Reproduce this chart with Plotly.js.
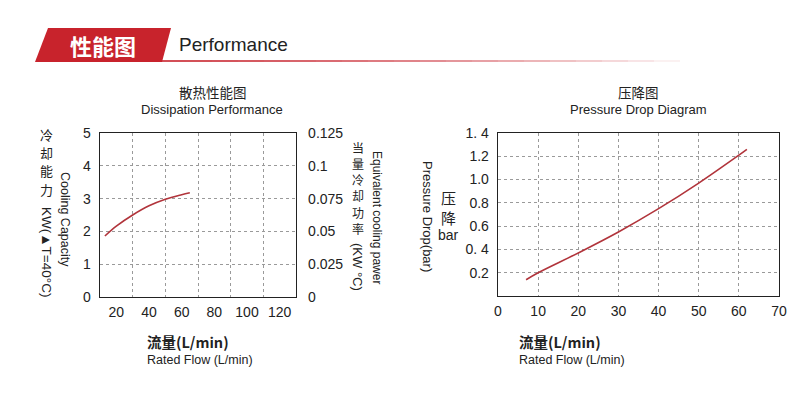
<!DOCTYPE html>
<html><head><meta charset="utf-8">
<script src="https://cdn.plot.ly/plotly-3.0.1.min.js"></script>
<style>html,body{margin:0;padding:0;background:#fff}#chart{width:800px;height:393px}</style>
</head><body><div id="chart"></div>
<script>
// Dissipation performance (cooling capacity vs flow)
const coolFlow = [13, 20, 30, 40, 50, 60, 65];
const coolKW   = [1.86, 2.16, 2.5, 2.78, 2.98, 3.12, 3.18];
// Pressure drop vs flow
const dropFlow = [7, 10, 20, 30, 40, 50, 60, 62];
const dropBar  = [0.14, 0.2, 0.37, 0.55, 0.75, 0.97, 1.21, 1.26];
// tick labels
const coolXTicks = [20, 40, 60, 80, 100, 120];
const coolXGrid  = [30, 50, 70, 90, 110];
const coolYTicks = [0, 1, 2, 3, 4, 5];
const equivTicks = [0, 0.025, 0.05, 0.075, 0.1, 0.125];
const dropXTicks = [0, 10, 20, 30, 40, 50, 60, 70];
const dropYTicks = [0.2, 0.4, 0.6, 0.8, 1.0, 1.2, 1.4];
const dropYText  = ['0.2', '0. 4', '0.6', '0.8', '1.0', '1.2', '1. 4'];

const W = 800, H = 393;
const px = x => x / W, py = y => 1 - y / H;
const RED = '#c8232c', LINE = '#b1343b', TXT = '#222';
const LAT = 'Liberation Sans, Arial, sans-serif';
const CJK = 'Noto Sans CJK SC, sans-serif';

const gridStyle = {gridcolor: '#9a9a9a', griddash: 'dot', gridwidth: 1};
const axBase = {showline: true, linecolor: '#222', linewidth: 1.3, mirror: true, zeroline: false,
  ticks: '', fixedrange: true, tickfont: {family: LAT, size: 14, color: TXT}, ticklabelstandoff: 5};

const traces = [
  {x: [], y: [], xaxis: 'x3', yaxis: 'y', mode: 'lines', showlegend: false, hoverinfo: 'skip'},
  {x: [], y: [], xaxis: 'x', yaxis: 'y2', mode: 'lines', showlegend: false, hoverinfo: 'skip'},
  {x: coolFlow, y: coolKW, xaxis: 'x', yaxis: 'y', mode: 'lines', line: {color: LINE, width: 1.6, shape: 'spline'}, showlegend: false, hoverinfo: 'skip'},
  {x: dropFlow, y: dropBar, xaxis: 'x2', yaxis: 'y3', mode: 'lines', line: {color: LINE, width: 1.6, shape: 'spline'}, showlegend: false, hoverinfo: 'skip'}
];

const ann = [];
function T(text, x, y, size, opts) {
  ann.push(Object.assign({text: text, x: px(x), y: py(y), xref: 'paper', yref: 'paper', showarrow: false,
    xanchor: 'center', yanchor: 'middle', borderpad: 0, font: {family: LAT, size: size, color: TXT}}, opts || {}));
}
function V(chars, x, yFirst, step, size) {
  Array.from(chars).forEach((c, i) => T(c, x, yFirst + i * step, size, {font: {family: CJK, size: size, color: TXT}}));
}
// header
T('<b>性能图</b>', 103, 45, 22, {font: {family: CJK, size: 22, color: '#fff'}});
T('Performance', 178, 45, 19, {xanchor: 'left'});
// chart titles
T('散热性能图', 213, 92, 13.5, {font: {family: CJK, size: 13.5, color: TXT}});
T('Dissipation Performance', 212, 109.5, 13);
T('压降图', 638, 92, 13.5, {font: {family: CJK, size: 13.5, color: TXT}});
T('Pressure Drop Diagram', 638, 109.5, 13);
// left chart y titles
V('冷却能力', 46, 134, 18.5, 13);
T('KW(▲T=40°C)', 46, 252, 13.5, {textangle: 90});
T('Cooling Capacity', 65, 219, 12.5, {textangle: 90});
V('当量冷却功率', 358, 147, 16.3, 12);
T('(KW °C)', 358, 267, 13, {textangle: 90});
T('Equivalent cooling pawer', 377, 217, 12, {textangle: 90});
// right chart y titles
T('Pressure Drop(bar)', 428, 216, 13, {textangle: 90});
T('压', 448, 198, 15, {font: {family: CJK, size: 15, color: TXT}});
T('降', 448, 217, 15, {font: {family: CJK, size: 15, color: TXT}});
T('bar', 448, 235, 14);
// x titles
T('<b>流量(L/min)</b>', 146, 341.5, 14.5, {xanchor: 'left', font: {family: CJK, size: 14.5, color: TXT}});
T('Rated Flow (L/min)', 146, 359.5, 12.5, {xanchor: 'left'});
T('<b>流量(L/min)</b>', 518, 341.5, 14.5, {xanchor: 'left', font: {family: CJK, size: 14.5, color: TXT}});
T('Rated Flow (L/min)', 518, 359.5, 12.5, {xanchor: 'left'});

// header decoration shapes
const shapes = [{type: 'path', xref: 'paper', yref: 'paper', line: {width: 0}, fillcolor: RED,
  path: `M ${px(35)},${py(62)} L ${px(48)},${py(28)} L ${px(171)},${py(28)} L ${px(162)},${py(62)} Z`}];
const segN = 20, x0 = 160, x1 = 680;
for (let i = 0; i < segN; i++) {
  const a = x0 + (x1 - x0) * i / segN, b = x0 + (x1 - x0) * (i + 1) / segN;
  shapes.push({type: 'line', xref: 'paper', yref: 'paper', x0: px(a), x1: px(b), y0: py(61), y1: py(61),
    line: {color: RED, width: 1.6}, opacity: Math.max(0, 1 - Math.pow(i / segN, 1.5))});
}

const layout = {
  width: W, height: H, margin: {l: 0, r: 0, t: 0, b: 0}, paper_bgcolor: '#fff', plot_bgcolor: '#fff',
  showlegend: false,
  xaxis: Object.assign({}, axBase, {domain: [px(100), px(296)], anchor: 'y', range: [10, 130],
    tickvals: coolXTicks, showgrid: false, ticklabelstandoff: 2}),
  xaxis3: Object.assign({}, axBase, gridStyle, {overlaying: 'x', anchor: 'y', range: [10, 130],
    tickvals: coolXGrid, showgrid: true, showticklabels: false, showline: false}),
  yaxis: Object.assign({}, axBase, {domain: [py(297), py(133)], anchor: 'x', range: [0, 5],
    tickvals: coolYTicks, showgrid: true, mirror: false}, gridStyle),
  yaxis2: Object.assign({}, axBase, {overlaying: 'y', side: 'right', anchor: 'x', range: [0, 0.125],
    tickvals: equivTicks, showgrid: false, mirror: false, ticklabelstandoff: 8}),
  xaxis2: Object.assign({}, axBase, {domain: [px(498), px(779)], anchor: 'y3', range: [0, 70],
    tickvals: dropXTicks, showgrid: true, ticklabelstandoff: 2}, gridStyle),
  yaxis3: Object.assign({}, axBase, {domain: [py(296), py(133)], anchor: 'x2', range: [0, 1.4],
    tickvals: dropYTicks, ticktext: dropYText, showgrid: true}, gridStyle),
  annotations: ann, shapes: shapes
};
Plotly.newPlot('chart', traces, layout, {staticPlot: true, displayModeBar: false});
</script></body></html>
